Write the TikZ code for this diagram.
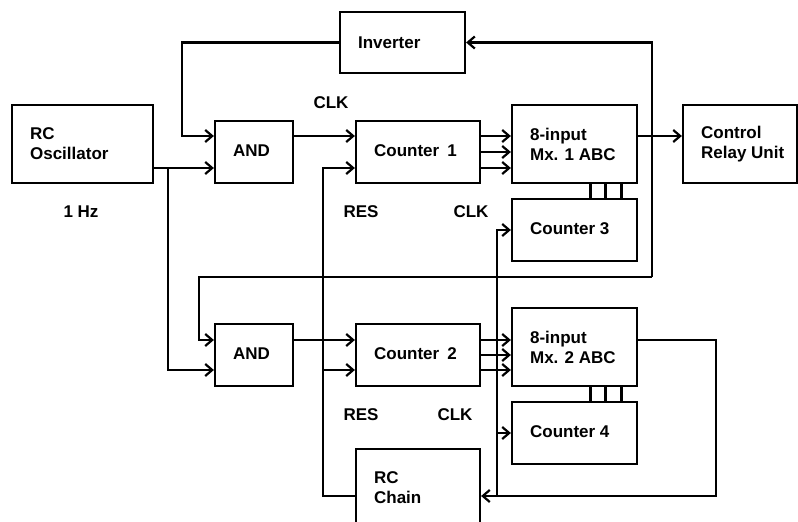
\documentclass[tikz,border=0pt]{standalone}
\usepackage{fontspec}
\setmainfont{Liberation Sans}
\usetikzlibrary{arrows.meta}
\begin{document}
\begin{tikzpicture}[x=1pt,y=-1pt,
  box/.style={draw, line width=2.2pt, inner sep=0pt},
  txt/.style={font=\fontsize{17}{20}\selectfont\bfseries, align=left, inner sep=0pt, anchor=west},
  lbl/.style={font=\fontsize{17}{20}\selectfont\bfseries, inner sep=0pt},
  wire/.style={line width=2.2pt},
  arr/.style={wire, -{Straight Barb[length=7pt,width=12pt]}}]
\useasboundingbox (0,0) rectangle (798,522);
\clip (0,0) rectangle (798,522);
% boxes
\node[box, minimum width=141pt, minimum height=78pt] (osc) at (82.5,144) {};
\node[box, minimum width=125pt, minimum height=61pt] (inv) at (402.5,42.5) {};
\node[box, minimum width=78pt, minimum height=62pt] (and1) at (254,152) {};
\node[box, minimum width=124pt, minimum height=62pt] (c1) at (418,152) {};
\node[box, minimum width=125pt, minimum height=78pt] (mx1) at (574.5,144) {};
\node[box, minimum width=114pt, minimum height=78pt] (cru) at (740,144) {};
\node[box, minimum width=125pt, minimum height=62pt] (c3) at (574.5,230) {};
\node[box, minimum width=78pt, minimum height=62pt] (and2) at (254,355) {};
\node[box, minimum width=124pt, minimum height=62pt] (c2) at (418,355) {};
\node[box, minimum width=125pt, minimum height=78pt] (mx2) at (574.5,347) {};
\node[box, minimum width=125pt, minimum height=62pt] (c4) at (574.5,433) {};
\node[box, minimum width=124pt, minimum height=78pt] (rcc) at (418,488) {};
% box texts
\node[txt] (osct) at ([xshift=19pt]osc.west) {RC\\Oscillator};
\node[txt] (invt) at ([xshift=19pt]inv.west) {Inverter};
\node[txt] (and1t) at ([xshift=19pt,yshift=1pt]and1.west) {AND};
\node[txt] (c1t) at ([xshift=19pt,yshift=1pt]c1.west) {Counter\hspace{0.2em} 1};
\node[txt] (mx1t) at ([xshift=19pt]mx1.west) {8-input\\Mx. 1 ABC};
\node[txt] (crut) at ([xshift=19pt]cru.west) {Control\\Relay Unit};
\node[txt] (c3t) at ([xshift=19pt,yshift=1pt]c3.west) {Counter 3};
\node[txt] (and2t) at ([xshift=19pt,yshift=1pt]and2.west) {AND};
\node[txt] (c2t) at ([xshift=19pt,yshift=1pt]c2.west) {Counter\hspace{0.2em} 2};
\node[txt] (mx2t) at ([xshift=19pt]mx2.west) {8-input\\Mx. 2 ABC};
\node[txt] (c4t) at ([xshift=19pt,yshift=1pt]c4.west) {Counter 4};
\node[txt] (rcct) at ([xshift=19pt]rcc.west) {RC\\Chain};
% labels
\node[lbl] (clka) at (331,103) {CLK};
\node[lbl] (hz) at (81,212) {1 Hz};
\node[lbl] (resa) at (361,212) {RES};
\node[lbl] (clkb) at (471,212) {CLK};
\node[lbl] (resb) at (361,415) {RES};
\node[lbl] (clkc) at (455,415) {CLK};
% connectors
\draw[arr] (inv.west) -| ([xshift=-32pt,yshift=16pt]and1.west) -- ([yshift=16pt]and1.west);
\draw[arr] ([yshift=-24pt]osc.east) -- ([yshift=-16pt]and1.west);
\coordinate (j1) at (168,168);
\draw[arr] (j1) |- ([yshift=-15pt]and2.west);
\draw[arr] ([yshift=16pt]and1.east) -- ([yshift=16pt]c1.west);
\draw[arr] ([yshift=-8pt]rcc.west) -| ([xshift=-32pt,yshift=-16pt]c1.west) -- ([yshift=-16pt]c1.west);
\draw[arr] ([xshift=-32pt,yshift=-15pt]c2.west) -- ([yshift=-15pt]c2.west);
\draw[arr] ([yshift=15pt]and2.east) -- ([yshift=15pt]c2.west);
\foreach \s/\t in {16/8,0/-8,-16/-24} \draw[arr] ([yshift=\s pt]c1.east) -- ([yshift=\t pt]mx1.west);
\foreach \s/\t in {15/7,0/-8,-15/-23} \draw[arr] ([yshift=\s pt]c2.east) -- ([yshift=\t pt]mx2.west);
\draw[arr] ([yshift=8pt]mx1.east) -- ([yshift=8pt]cru.west);
\coordinate (v1) at (652,277);
\draw[arr] (v1) |- (inv.east);
\draw[arr] (v1) -| ([xshift=-15pt,yshift=15pt]and2.west) -- ([yshift=15pt]and2.west);
\foreach \s in {16,31,47} {
  \draw[wire] ([xshift=\s pt]mx1.south) -- ([xshift=\s pt]c3.north);
  \draw[wire] ([xshift=\s pt]mx2.south) -- ([xshift=\s pt]c4.north);
}
\coordinate (v2) at (497,496);
\draw[arr] (v2) |- (c3.west);
\draw[arr] (v2) |- (c4.west);
\draw[arr] ([yshift=7pt]mx2.east) -| ([xshift=235pt,yshift=-8pt]rcc.east) -- ([yshift=-8pt]rcc.east);
\end{tikzpicture}
\end{document}
